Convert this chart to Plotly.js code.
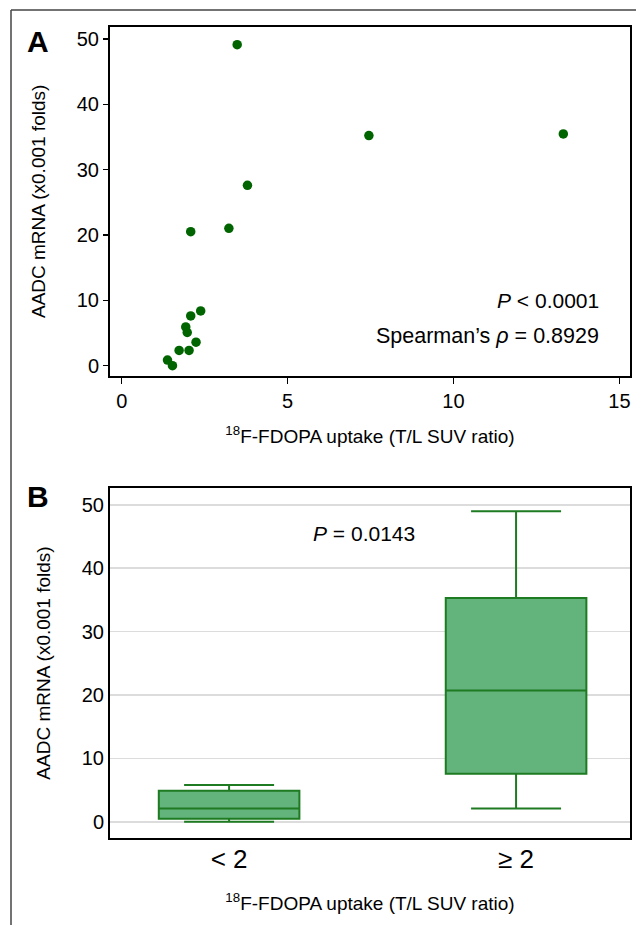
<!DOCTYPE html>
<html>
<head>
<meta charset="utf-8">
<script src="https://cdn.plot.ly/plotly-3.0.1.min.js"></script>
<style>html,body{margin:0;padding:0;background:#fff}#chart{width:636px;height:925px}</style>
</head>
<body>
<div id="chart"></div>
<script>
// Panel A: scatter data (T/L SUV ratio vs AADC mRNA)
const suvRatio = [3.48, 7.45, 13.31, 3.79, 2.08, 3.23, 2.38, 2.08, 1.93, 1.975, 2.24, 1.73, 2.03, 1.38, 1.53];
const aadcMrna = [49.14, 35.23, 35.48, 27.61, 20.51, 21.02, 8.38, 7.61, 5.94, 5.08, 3.60, 2.34, 2.34, 0.86, 0.0];

// Panel B: box summary per group
const groups = ['< 2', '≥ 2'];
const lowerFence = [0.0, 2.1];
const q1 = [0.5, 7.6];
const median = [2.1, 20.7];
const q3 = [4.9, 35.3];
const upperFence = [5.8, 49.0];

const yTicks = [0, 10, 20, 30, 40, 50];
const xTicksA = [0, 5, 10, 15];

const W = 636, H = 925;
const px = v => v / W, py = v => 1 - v / H;
const FONT = 'Liberation Sans, Arial, Helvetica, sans-serif';

const traces = [
  {
    type: 'scatter', mode: 'markers', x: suvRatio, y: aadcMrna,
    xaxis: 'x', yaxis: 'y',
    marker: {color: '#006400', size: 9.5}, showlegend: false, hoverinfo: 'x+y'
  },
  {
    type: 'box', x: groups, xaxis: 'x2', yaxis: 'y2',
    q1: q1, median: median, q3: q3, lowerfence: lowerFence, upperfence: upperFence,
    fillcolor: '#63b37c', line: {color: '#1e7b22', width: 2},
    width: 0.49, whiskerwidth: 0.64, boxpoints: false, showlegend: false
  }
];

const layout = {
  width: W, height: H,
  margin: {l: 0, r: 0, t: 0, b: 0},
  paper_bgcolor: '#fff', plot_bgcolor: '#fff',
  font: {family: FONT, color: '#000', size: 19},
  showlegend: false,
  xaxis: {
    domain: [px(110), px(630)], anchor: 'y',
    range: [-0.353, 15.32], tickvals: xTicksA, ticktext: xTicksA.map(String),
    ticks: 'outside', ticklen: 6, tickwidth: 1.5, tickcolor: '#000',
    showline: true, linecolor: '#000', linewidth: 2, mirror: true,
    showgrid: false, zeroline: false, tickfont: {size: 20},
    title: {text: '<sup>18</sup>F-FDOPA uptake (T/L SUV ratio)', font: {size: 19}, standoff: 19}
  },
  yaxis: {
    domain: [py(375.7), py(27)], anchor: 'x',
    range: [-1.53, 51.84], tickvals: yTicks, ticktext: yTicks.map(String),
    ticks: 'outside', ticklen: 5, tickwidth: 1.5, tickcolor: '#000',
    showline: true, linecolor: '#000', linewidth: 2, mirror: true,
    showgrid: false, zeroline: false, tickfont: {size: 20},
    title: {text: 'AADC mRNA (x0.001 folds)', font: {size: 19}, standoff: 26}
  },
  xaxis2: {
    domain: [px(110), px(630)], anchor: 'y2',
    range: [-0.415, 1.397], type: 'category',
    ticks: '', ticklabelstandoff: -4,
    showline: true, linecolor: '#000', linewidth: 2, mirror: true,
    showgrid: false, zeroline: false, tickfont: {size: 26},
    title: {text: '<sup>18</sup>F-FDOPA uptake (T/L SUV ratio)', font: {size: 19}, standoff: 24}
  },
  yaxis2: {
    domain: [py(838.3), py(487.7)], anchor: 'x2',
    range: [-2.6, 52.7], tickvals: yTicks, ticktext: yTicks.map(String),
    ticks: '', showline: true, linecolor: '#000', linewidth: 2, mirror: true,
    showgrid: true, gridcolor: '#dcdcdc', gridwidth: 1.5, zeroline: false,
    tickfont: {size: 20},
    title: {text: 'AADC mRNA (x0.001 folds)', font: {size: 19}, standoff: 26}
  },
  shapes: [
    {type: 'line', xref: 'paper', yref: 'paper', x0: px(11), x1: 1, y0: py(10), y1: py(10), line: {color: '#444', width: 1.5}},
    {type: 'line', xref: 'paper', yref: 'paper', x0: px(11), x1: px(11), y0: 0, y1: py(10), line: {color: '#444', width: 1.5}}
  ],
  annotations: [
    {xref: 'paper', yref: 'paper', x: px(38), y: py(42), text: '<b>A</b>', showarrow: false, font: {size: 30}, xanchor: 'center', yanchor: 'middle'},
    {xref: 'paper', yref: 'paper', x: px(38), y: py(497), text: '<b>B</b>', showarrow: false, font: {size: 30}, xanchor: 'center', yanchor: 'middle'},
    {xref: 'paper', yref: 'paper', x: px(601), y: py(300), text: '<i>P</i> &lt; 0.0001', showarrow: false, font: {size: 21}, xanchor: 'right', yanchor: 'middle'},
    {xref: 'paper', yref: 'paper', x: px(601), y: py(336), text: 'Spearman’s <i>ρ</i> = 0.8929', showarrow: false, font: {size: 21.5}, xanchor: 'right', yanchor: 'middle'},
    {xref: 'paper', yref: 'paper', x: px(364), y: py(533), text: '<i>P</i> = 0.0143', showarrow: false, font: {size: 21}, xanchor: 'center', yanchor: 'middle'}
  ]
};

Plotly.newPlot('chart', traces, layout, {displayModeBar: false, staticPlot: true});
</script>
</body>
</html>
